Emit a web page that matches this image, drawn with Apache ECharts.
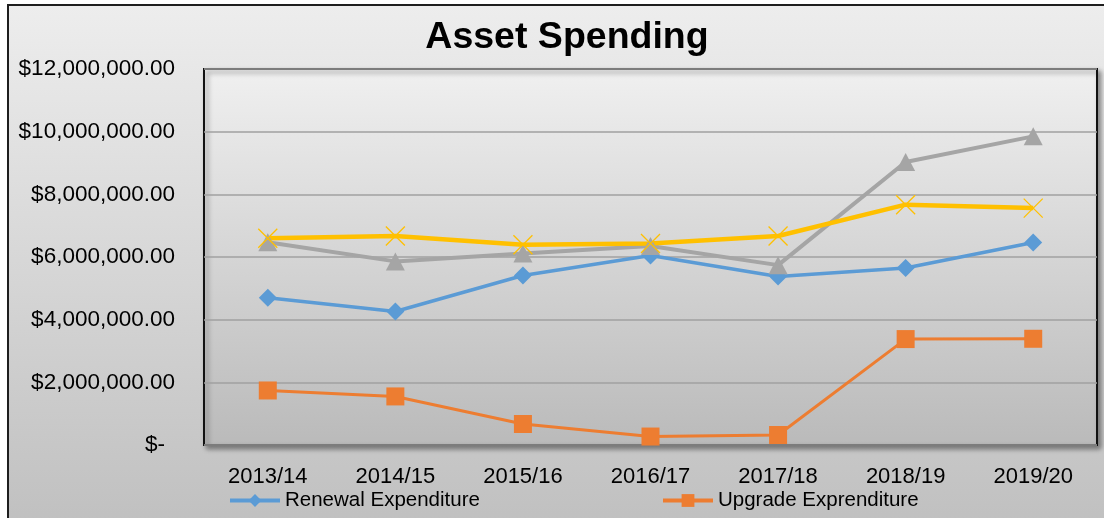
<!DOCTYPE html>
<html>
<head>
<meta charset="utf-8">
<script src="https://cdn.jsdelivr.net/npm/echarts@6/dist/echarts.min.js"></script>
<style>
  html, body { margin: 0; padding: 0; background: #fff; }
  #bg {
    position: absolute; left: 7px; top: 4px; width: 1200px; height: 520px;
    border: 2px solid #1e1e1e;
    background: linear-gradient(to bottom, #ededed 0%, #c0c0c0 100%);
  }
  #chart { position: absolute; left: 0; top: 0; width: 1104px; height: 518px; }
</style>
</head>
<body>
<div id="bg"></div>
<div id="chart"></div>
<script>
const years = ['2013/14', '2014/15', '2015/16', '2016/17', '2017/18', '2018/19', '2019/20']
const renewal = [4700000, 4260000, 5410000, 6050000, 5380000, 5650000, 6460000]
const upgrade = [1740000, 1550000, 670000, 270000, 320000, 3380000, 3390000]
const total = [6470000, 5860000, 6110000, 6350000, 5740000, 9030000, 9850000]
const depreciation = [6600000, 6670000, 6390000, 6430000, 6670000, 7670000, 7560000]
const yTicks = { min: 0, max: 12000000, interval: 2000000 }

const font = 'Liberation Sans'
const chart = echarts.init(document.getElementById('chart'))

function money (v) {
  if (v === 0) return '{z|$-}'
  return '$' + v.toLocaleString('en-US', { minimumFractionDigits: 2, maximumFractionDigits: 2 })
}

function lineSeries (name, data, color, width, symbol, size) {
  return {
    type: 'line',
    name: name,
    data: data,
    symbol: symbol,
    symbolSize: size,
    showSymbol: true,
    lineStyle: { color: color, width: width },
    itemStyle: { color: color },
    emphasis: { disabled: true }
  }
}

const xSeries = lineSeries('Depreciation', depreciation, '#ffc000', 4.5, 'path://M0,0L10,10M10,0L0,10', 19)
xSeries.itemStyle = { color: '#ffc000', borderColor: '#ffc000', borderWidth: 1.3 }

function legendAt (name, left) {
  return {
    data: [name],
    left: left,
    top: 490,
    padding: 0,
    itemWidth: 50,
    itemHeight: 16,
    lineStyle: { width: 4 },
    textStyle: { fontFamily: font, fontSize: 20.5, color: '#000' }
  }
}

chart.setOption({
  backgroundColor: 'transparent',
  animation: false,
  textStyle: { fontFamily: font },
  title: {
    text: 'Asset Spending',
    left: 562,
    textAlign: 'center',
    top: 14,
    textStyle: { fontFamily: font, fontSize: 37.5, fontWeight: 'bold', color: '#000' }
  },
  legend: [
    legendAt('Renewal Expenditure', 228),
    legendAt('Upgrade Exprenditure', 661)
  ],
  grid: {
    left: 204,
    top: 69,
    right: 7,
    bottom: 73,
    show: true,
    borderColor: '#111',
    borderWidth: 2,
    backgroundColor: {
      type: 'linear', x: 0, y: 0, x2: 0, y2: 1,
      colorStops: [{ offset: 0, color: '#f0f0f0' }, { offset: 1, color: '#bababa' }]
    },
    shadowColor: 'rgba(0,0,0,0.4)',
    shadowBlur: 5,
    shadowOffsetX: 3,
    shadowOffsetY: 3
  },
  xAxis: {
    type: 'category',
    data: years,
    boundaryGap: true,
    axisLine: { show: false },
    axisTick: { show: false },
    axisLabel: { margin: 21, fontFamily: font, fontSize: 22, color: '#000' }
  },
  yAxis: {
    type: 'value',
    min: yTicks.min,
    max: yTicks.max,
    interval: yTicks.interval,
    axisLine: { show: false },
    axisTick: { show: false },
    splitLine: { lineStyle: { color: '#a0a0a0', width: 1.5 } },
    axisLabel: {
      margin: 29,
      fontFamily: font,
      fontSize: 22.5,
      color: '#000',
      formatter: money,
      rich: { z: { fontFamily: font, fontSize: 22.5, color: '#000', padding: [0, 10, 0, 0] } }
    }
  },
  series: [
    lineSeries('Renewal Expenditure', renewal, '#5b9bd5', 3.5, 'diamond', 18),
    lineSeries('Upgrade Exprenditure', upgrade, '#ed7d31', 3, 'rect', 18),
    lineSeries('Total Expenditure', total, '#a5a5a5', 4, 'triangle', [19, 18]),
    xSeries
  ]
})
</script>
</body>
</html>
